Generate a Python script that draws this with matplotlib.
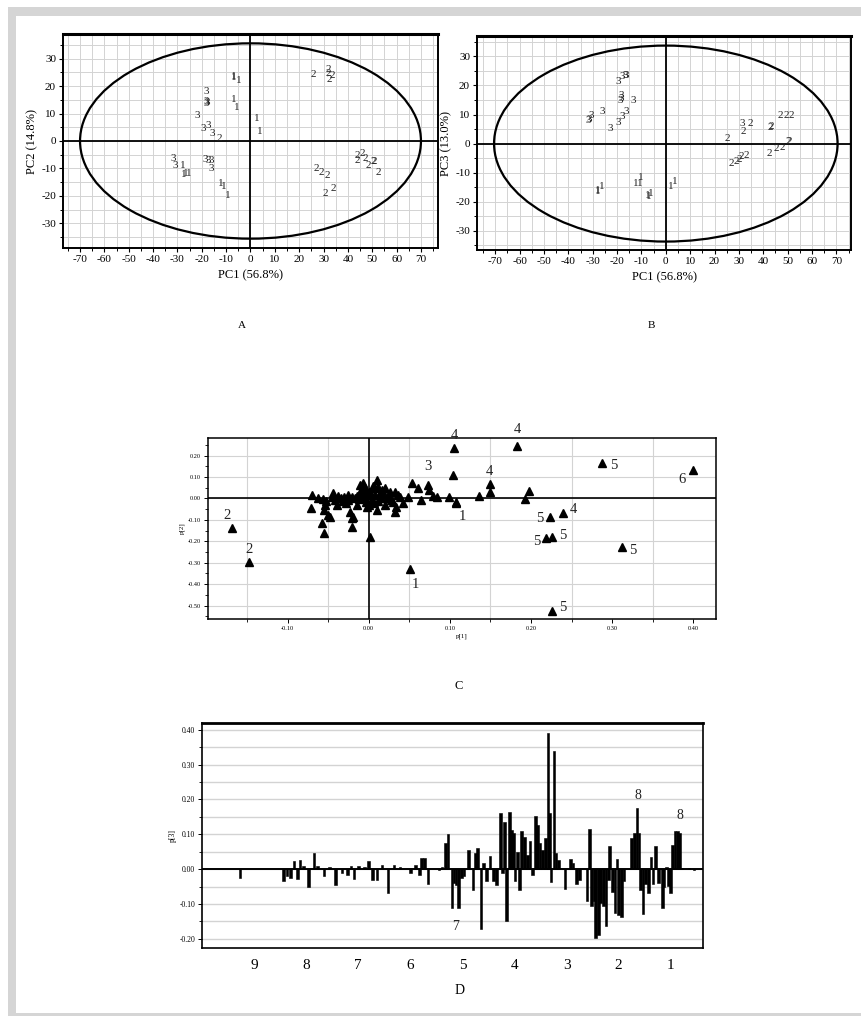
import matplotlib
matplotlib.use("Agg")
import matplotlib.pyplot as plt
from matplotlib.patches import Ellipse, Rectangle
from matplotlib.ticker import MultipleLocator, FixedLocator

plt.rcParams['font.family'] = ['Liberation Serif', 'DejaVu Serif']
plt.rcParams['axes.unicode_minus'] = False

# ---------------- data ----------------
# Panel A: PC1 vs PC2 scores (sample group labels)
a_x = [-7, -6.8, -5, -6.8, -5.7, 2.7, 3.7,
       26, 32, 33.5, 32.5, 31.8,
       -18, -18, -17.6, -18.2, -22, -19.4, -17.5, -15.7, -12.7,
       -31.7, -31, -27.7, -26.5, -27.5, -25.5,
       -18.5, -17.2, -16.2, -16,
       -12.3, -10.8, -9.3,
       27, 29, 31.4, 30.7, 33.9,
       43.7, 45.8, 47, 43.7, 48.5, 50.5, 51, 52.6]
a_y = [23, 23.5, 22, 15, 12.2, 8.2, 3.3,
       24.4, 26, 24, 22.5, 24.5,
       18, 14.5, 14, 13.5, 9.4, 4.5, 5.6, 2.9, 1,
       -6.5, -8.8, -9, -12, -12.3, -12,
       -6.8, -7, -7.2, -10,
       -15.6, -16.5, -19.9,
       -10, -11.3, -12.5, -19.3, -17.4,
       -5.2, -4.6, -6.5, -7, -9, -7.6, -7.6, -11.3]
a_lab = ['1', '1', '1', '1', '1', '1', '1',
         '2', '2', '2', '2', '2',
         '3', '3', '3', '3', '3', '3', '3', '3', '2',
         '3', '3', '1', '1', '1', '1',
         '3', '3', '3', '3',
         '1', '1', '1',
         '2', '2', '2', '2', '2',
         '2', '2', '2', '2', '2', '2', '2', '2']

# Panel B: PC1 vs PC3 scores
b_x = [-18, -16.7, -16.3, -19.4,
       -18.4, -18.2, -18.6, -13.3,
       -26.2, -31.7, -31.3, -30.7,
       -22.8, -19.7, -18, -16.3,
       -27.9, -28.1, -26.2, -12.3, -10.1, -10.5, -7.1, -7.4, -6, 2.2, 3.8,
       25.4, 31.4, 31.8, 34.6, 42.8, 43.1, 46.9, 49.3, 51.6,
       42.3, 45.5, 48, 50.3, 50.6,
       27, 28.8, 31.1, 33.2, 30]
b_y = [22.9, 23.5, 23.5, 21.2,
       15.5, 16.5, 14.8, 14.9,
       11.2, 8, 8.3, 9.5,
       5.2, 7.4, 9.2, 10.9,
       -16.6, -16.0, -14.9, -13.7, -11.5, -13.7, -18.3, -17.8, -17.2, -14.9, -13.2,
       1.7, 6.9, 4, 6.9, 5.7, 6.0, 9.7, 9.7, 9.7,
       -3.4, -1.7, -1.4, 0.6, 0.8,
       -6.9, -6.3, -4.6, -4, -5.5]
b_lab = ['3', '3', '3', '3',
         '3', '3', '3', '3',
         '3', '3', '3', '3',
         '3', '3', '3', '3',
         '1', '1', '1', '1', '1', '1', '1', '1', '1', '1', '1',
         '2', '3', '2', '2', '2', '2', '2', '2', '2',
         '2', '2', '2', '2', '2',
         '2', '2', '2', '2', '2']

# Hotelling ellipse semi-axes (PC units)
a_ell = (70.0, 35.6)
b_ell = (70.5, 33.7)

# Panel C: loadings p[1] vs p[2]
c_x = [-0.0695, -0.0716, -0.056, -0.054, -0.052, -0.055, -0.050, -0.048, -0.058, -0.055,
       -0.044, -0.042, -0.039, -0.034, -0.030, -0.026, -0.023, -0.021, -0.021, -0.019,
       -0.017, -0.014, -0.011, -0.009, -0.007, -0.005, -0.003, -0.002, 0.0004, 0.002,
       0.0045, 0.0074, 0.010, 0.010, 0.013, 0.016, 0.020, 0.022, 0.026, 0.028,
       0.032, 0.032, 0.034, 0.036, 0.042, 0.049, 0.053, 0.061, 0.065, 0.073,
       0.074, 0.079, 0.084, 0.099, 0.104, 0.107, 0.136, 0.149, 0.193, 0.197,
       -0.045, -0.038, -0.032, -0.025, -0.020, -0.015, -0.012, -0.008, -0.004, 0.0,
       0.003, 0.006, 0.008, 0.012, 0.015, 0.018, 0.024, 0.030, 0.038, -0.062,
       -0.010, 0.005, 0.012, -0.005, 0.0, -0.028, 0.020,
       -0.169, -0.148, 0.0506, 0.105, 0.183, 0.149, 0.107, 0.287, 0.400,
       0.223, 0.239, 0.219, 0.226, 0.312, 0.2255]
c_y = [0.0155, -0.0465, -0.005, -0.031, -0.011, -0.054, -0.078, -0.085, -0.116, -0.160,
       0.023, -0.008, -0.031, 0.0, 0.008, -0.008, -0.062, -0.093, -0.132, -0.085,
       0.0, -0.031, 0.062, 0.023, 0.070, 0.039, -0.016, -0.039, 0.016, -0.178,
       -0.008, 0.047, 0.085, -0.054, 0.016, 0.039, 0.047, 0.0, 0.031, -0.008,
       0.031, -0.062, -0.039, 0.016, -0.023, 0.008, 0.070, 0.047, -0.008, 0.062,
       0.039, 0.011, 0.008, 0.008, 0.109, -0.016, 0.011, 0.031, -0.005, 0.034,
       0.005, 0.012, -0.012, 0.015, 0.005, 0.012, -0.005, 0.008, 0.0, 0.030,
       0.020, -0.020, 0.015, -0.010, 0.0, 0.020, 0.010, -0.015, 0.005, 0.0,
       0.040, 0.060, 0.055, 0.050, -0.030, -0.020, -0.030,
       -0.140, -0.299, -0.330, 0.237, 0.243, 0.067, -0.020, 0.167, 0.132,
       -0.085, -0.067, -0.183, -0.178, -0.225, -0.527]
# annotated loadings: index into c_x/c_y and label text
c_ann_idx = [87, 88, 89, 90, 91, 92, 93, 94, 95, 96, 97, 98, 99, 100, 101, 48]
c_ann_lab = ['2', '2', '1', '4', '4', '4', '1', '5', '6', '5', '4', '5', '5', '5', '5', '3']
c_ann_off = [(-3, 9), (0, 9), (4, -11), (0, 9), (0, 12), (0, 9), (5, -10), (9, -2),
             (-8, -7), (-7, -1), (8, 2), (-7, -3), (8, 1), (8, -3), (8, 3), (5, 24)]

# Panel D: p[3] loadings along chemical shift (ppm)
d_ppm = [9.27, 8.43, 8.37, 8.30, 8.23, 8.17, 8.12, 8.05, 7.95, 7.85, 7.78, 7.66, 7.55, 7.44,
         7.31, 7.21, 7.14, 7.08, 6.99, 6.88, 6.80, 6.73, 6.64, 6.54, 6.43, 6.31, 6.20, 6.00,
         5.90, 5.82, 5.78, 5.73, 5.66, 5.45, 5.39, 5.33, 5.28, 5.20, 5.16, 5.12, 5.07, 5.02,
         4.97, 4.88, 4.80, 4.75, 4.71, 4.64, 4.59, 4.54, 4.47, 4.40, 4.35,
         4.27, 4.23, 4.19, 4.15, 4.10, 4.06, 4.02, 3.99, 3.94, 3.90, 3.86, 3.81, 3.75, 3.70,
         3.65, 3.60, 3.56, 3.51, 3.46, 3.41, 3.36, 3.33, 3.30, 3.24, 3.20, 3.16,
         3.03, 2.93, 2.88, 2.81, 2.75, 2.61, 2.56, 2.52, 2.47, 2.44, 2.39, 2.35, 2.29,
         2.24, 2.20, 2.17, 2.12, 2.07, 2.03, 2.00, 1.94, 1.90,
         1.75, 1.70, 1.65, 1.61, 1.58, 1.53, 1.48, 1.43, 1.38, 1.34, 1.29, 1.24,
         1.16, 1.13, 1.08, 1.04, 1.00, 0.97, 0.92, 0.87, 0.83, 0.78, 0.65, 0.55]
d_val = [-0.024, -0.035, -0.020, -0.025, 0.022, -0.028, 0.027, 0.008, -0.050, 0.046, 0.008, -0.021, 0.006, -0.045,
         -0.011, -0.016, 0.008, -0.028, 0.010, 0.006, 0.022, -0.030, -0.030, 0.011, -0.067, 0.011, 0.005, -0.011,
         0.012, -0.016, 0.031, 0.033, -0.043, -0.003, 0.005, 0.074, 0.100, -0.110, -0.040, -0.045, -0.110, -0.026,
         -0.020, 0.055, -0.061, 0.046, 0.060, -0.171, 0.019, -0.035, 0.038, -0.035, -0.045,
         0.160, -0.011, 0.136, -0.150, 0.163, 0.112, 0.103, -0.035, 0.050, -0.061, 0.108, 0.093, 0.041, 0.081,
         -0.016, 0.152, 0.127, 0.074, 0.055, 0.089, 0.389, 0.160, -0.038, 0.338, 0.046, 0.027,
         -0.057, 0.029, 0.017, -0.042, -0.030, -0.090, 0.114, -0.107, -0.092, -0.197, -0.190, -0.097, -0.107,
         -0.164, -0.030, 0.065, -0.066, -0.126, 0.029, -0.130, -0.137, -0.035,
         0.090, 0.103, 0.174, 0.103, -0.061, -0.128, -0.042, -0.069, 0.036, -0.042, 0.067, -0.040,
         -0.110, -0.050, 0.006, -0.048, -0.069, 0.068, 0.108, 0.108, 0.105, 0.004, 0.004, -0.003]
d_ann_ppm = [5.14, 1.62, 0.83]
d_ann_val = [-0.164, 0.212, 0.155]
d_ann_lab = ['7', '8', '8']

# ---------------- figure ----------------
W, H = 862, 1016
fig = plt.figure(figsize=(W / 100, H / 100), dpi=100)
fig.patch.set_facecolor('white')


def px_rect(x0, y0, x1, y1):
    return [x0 / W, 1 - y1 / H, (x1 - x0) / W, (y1 - y0) / H]


# gray page border
fig.add_artist(Rectangle((8 / W, 0), 1 - 8 / W, 1 - 7 / H, transform=fig.transFigure,
                         facecolor='#d5d5d5', edgecolor='none', zorder=-10))
fig.add_artist(Rectangle((16 / W, 3 / H), 1 - 16 / W, 1 - 16 / H - 3 / H, transform=fig.transFigure,
                         facecolor='white', edgecolor='none', zorder=-9))

GRID = '#d3d3d3'


def score_panel(rect, xs, ys, labs, ell, ylab, xlim, ylim, letter, letter_xy):
    ax = fig.add_axes(rect)
    ax.set_xlim(*xlim)
    ax.set_ylim(*ylim)
    ax.xaxis.set_major_locator(MultipleLocator(10))
    ax.xaxis.set_minor_locator(MultipleLocator(5))
    ax.yaxis.set_major_locator(MultipleLocator(10))
    ax.yaxis.set_minor_locator(MultipleLocator(5))
    ax.grid(True, which='both', color=GRID, lw=0.7)
    ax.set_axisbelow(True)
    ax.axhline(0, color='black', lw=1.3, zorder=2)
    ax.axvline(0, color='black', lw=1.3, zorder=2)
    ax.add_patch(Ellipse((0, 0), 2 * ell[0], 2 * ell[1], fill=False, edgecolor='black', lw=1.6, zorder=3))
    for x, y, t in zip(xs, ys, labs):
        ax.text(x, y, t, fontsize=8, ha='center', va='center', color='#222222', zorder=4)
    ax.tick_params(which='major', direction='out', length=3, width=0.8, labelsize=8, pad=2)
    ax.tick_params(which='minor', direction='out', length=2, width=0.7)
    for s in ax.spines.values():
        s.set_linewidth(1.4)
    ax.spines['top'].set_linewidth(2.2)
    ax.set_xlabel('PC1 (56.8%)', fontsize=9, labelpad=4)
    ax.set_ylabel(ylab, fontsize=9, labelpad=2)
    fig.text(letter_xy[0] / W, 1 - letter_xy[1] / H, letter, fontsize=8, ha='center', va='center')
    return ax


score_panel(px_rect(63, 34, 438, 248), a_x, a_y, a_lab, a_ell, 'PC2 (14.8%)',
            (-77, 77), (-39, 39), 'A', (242, 325))
score_panel(px_rect(477, 36, 851, 250), b_x, b_y, b_lab, b_ell, 'PC3 (13.0%)',
            (-77.5, 76), (-36.6, 37), 'B', (651, 325))

# ---------------- Panel C ----------------
axc = fig.add_axes(px_rect(208, 438, 716, 619))
axc.set_xlim(-0.198, 0.428)
axc.set_ylim(-0.563, 0.282)
axc.xaxis.set_major_locator(FixedLocator([-0.1, 0.0, 0.1, 0.2, 0.3, 0.4]))
axc.xaxis.set_minor_locator(MultipleLocator(0.05))
axc.yaxis.set_major_locator(FixedLocator([-0.5, -0.4, -0.3, -0.2, -0.1, 0.0, 0.1, 0.2]))
axc.yaxis.set_minor_locator(MultipleLocator(0.05))
axc.set_xticklabels(['-0.10', '0.00', '0.10', '0.20', '0.30', '0.40'])
axc.set_yticklabels(['-0.50', '-0.40', '-0.30', '-0.20', '-0.10', '0.00', '0.10', '0.20'])
axc.grid(True, which='minor', axis='x', color=GRID, lw=0.8)
axc.grid(True, which='major', axis='y', color=GRID, lw=0.8)
axc.set_axisbelow(True)
axc.axhline(0, color='black', lw=1.2, zorder=2)
axc.axvline(0, color='black', lw=1.2, zorder=2)
axc.plot(c_x, c_y, '^', color='black', markersize=5.5, linestyle='none', zorder=4)
for i, t, off in zip(c_ann_idx, c_ann_lab, c_ann_off):
    axc.annotate(t, (c_x[i], c_y[i]), xytext=off, textcoords='offset points',
                 fontsize=10.5, ha='center', va='center', color='#222222', zorder=5,
                 annotation_clip=False)
axc.tick_params(which='major', direction='out', length=3, width=0.7, labelsize=4.5, pad=2)
axc.tick_params(which='minor', direction='out', length=2, width=0.6)
for s in axc.spines.values():
    s.set_linewidth(1.1)
axc.set_xlabel('p[1]', fontsize=5, labelpad=2)
axc.set_ylabel('p[2]', fontsize=5, labelpad=2)
fig.text(459 / W, 1 - 686 / H, 'C', fontsize=9, ha='center', va='center')

# ---------------- Panel D ----------------
axd = fig.add_axes(px_rect(202, 723, 703, 948))
axd.set_xlim(10, 0.38)
axd.set_ylim(-0.226, 0.419)
axd.yaxis.set_major_locator(FixedLocator([-0.2, -0.1, 0.0, 0.1, 0.2, 0.3, 0.4]))
axd.yaxis.set_minor_locator(MultipleLocator(0.05))
axd.set_yticklabels(['-0.20', '-0.10', '0.00', '0.10', '0.20', '0.30', '0.40'])
axd.xaxis.set_major_locator(FixedLocator([9, 8, 7, 6, 5, 4, 3, 2, 1]))
axd.grid(True, which='both', axis='y', color=GRID, lw=1.0)
axd.set_axisbelow(True)
axd.bar(d_ppm, d_val, width=0.05, color='black', edgecolor='black', lw=0.4, zorder=3)
axd.axhline(0, color='black', lw=1.4, zorder=3)
for x, y, t in zip(d_ann_ppm, d_ann_val, d_ann_lab):
    axd.text(x, y, t, fontsize=10, ha='center', va='center', color='#222222', zorder=5)
axd.tick_params(axis='y', which='major', direction='out', length=3, width=0.7, labelsize=5.5, pad=2)
axd.tick_params(axis='y', which='minor', direction='out', length=2, width=0.6)
axd.tick_params(axis='x', length=0, labelsize=11, pad=8)
for s in axd.spines.values():
    s.set_linewidth(1.2)
axd.spines['top'].set_linewidth(2.0)
axd.set_ylabel('p[3]', fontsize=5.5, labelpad=2)
fig.text(460 / W, 1 - 990 / H, 'D', fontsize=10, ha='center', va='center')

fig.savefig('out.png', dpi=100, facecolor='white')
